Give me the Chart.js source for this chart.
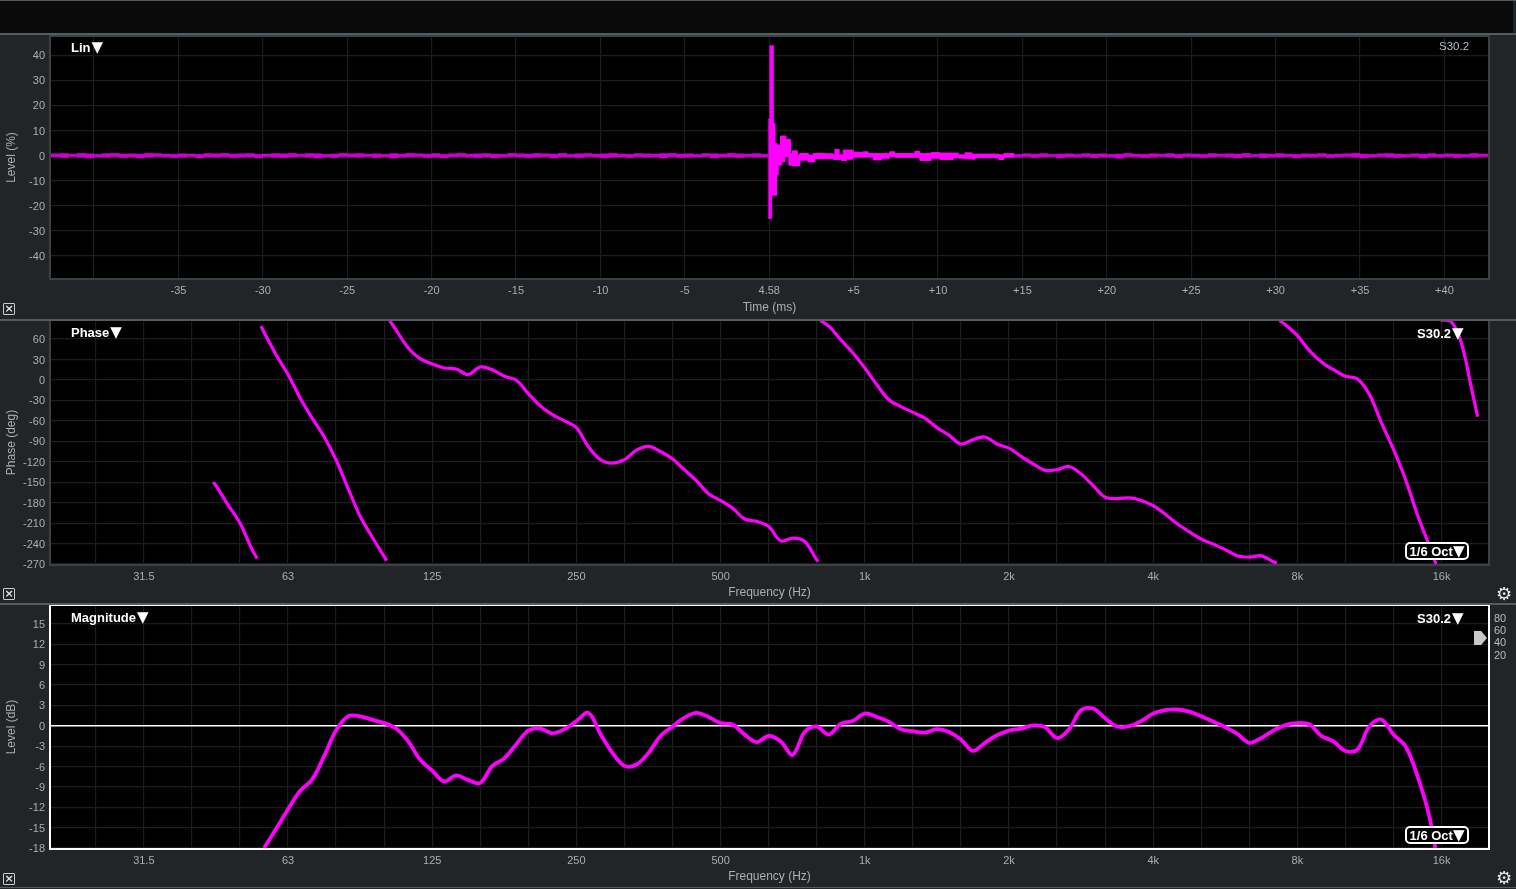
<!DOCTYPE html>
<html><head><meta charset="utf-8">
<script src="https://cdn.jsdelivr.net/npm/chart.js@4"></script>
<style>
html,body{margin:0;padding:0;background:#212527;width:1516px;height:889px;overflow:hidden;font-family:"Liberation Sans",Arial,sans-serif}
canvas{position:absolute;left:0}
.bar{position:absolute;left:0;width:1516px;background:#555c61}
.t{position:absolute;color:#fff;font-weight:bold;font-size:13px;line-height:14px;white-space:nowrap}
.t i{font:normal 15px/14px "DejaVu Sans";margin-left:1px}
.s{position:absolute;color:#b9bcbe;font-size:11px;line-height:12px}
.oct{position:absolute;left:1405px;width:60px;height:14px;border:2px solid #fff;border-radius:5px;background:#000;color:#fff;font-weight:bold;font-size:13px;line-height:14px;text-align:center;white-space:nowrap}
.oct i{font:normal 15px/14px "DejaVu Sans"}
.x{position:absolute;left:3px;width:10px;height:10px;border:1.5px solid #c9cbcc;border-radius:1px;color:#e4e4e4;font:bold 11px/10px "DejaVu Sans";text-align:center}
.g{position:absolute;left:1495px;color:#e4e4e4;font:18px/18px "DejaVu Sans";width:18px;text-align:center}
.h{position:absolute;left:1474px;top:631px;width:13px;height:14px;background:#c8c8c8;clip-path:polygon(0 0,55% 0,100% 50%,55% 100%,0 100%)}
</style></head><body>
<div style="position:absolute;left:0;top:0;width:1513px;height:34px;background:#0a0a0a"></div>
<canvas id="c1" width="1516" height="284" style="top:35px"></canvas>
<canvas id="c2" width="1516" height="284" style="top:319px"></canvas>
<canvas id="c3" width="1516" height="284" style="top:603px"></canvas>
<div class="bar" style="top:0;height:1px"></div>
<div class="bar" style="top:33px;height:2px"></div>
<div class="bar" style="top:319px;height:2px"></div>
<div class="bar" style="top:603px;height:2px"></div>
<div class="bar" style="top:887px;height:1px"></div>
<div class="t" style="left:71px;top:40px">Lin<i>▼</i></div>
<div class="s" style="left:1439px;top:40px;font-size:11.5px">S30.2</div>
<div class="t" style="left:71px;top:325px">Phase<i>▼</i></div>
<div class="t" style="left:1417px;top:326px">S30.2<i>▼</i></div>
<div class="oct" style="top:542px">1/6 Oct<i>▼</i></div>
<div class="t" style="left:71px;top:610px">Magnitude<i>▼</i></div>
<div class="t" style="left:1417px;top:611px">S30.2<i>▼</i></div>
<div class="oct" style="top:826px">1/6 Oct<i>▼</i></div>
<div class="x" style="top:303px">×</div>
<div class="x" style="top:588px">×</div>
<div class="x" style="top:873px">×</div>
<div class="g" style="top:585px">⚙</div>
<div class="g" style="top:869px">⚙</div>
<div class="s" style="left:1494px;top:612px">80</div>
<div class="s" style="left:1494px;top:624px">60</div>
<div class="s" style="left:1494px;top:636px">40</div>
<div class="s" style="left:1494px;top:649px">20</div>
<div class="h"></div>
<script>
// ---------- Impulse response (time relative to the 4.58 ms peak) ----------
const timeTickValues=[-40,-35,-30,-25,-20,-15,-10,-5,0,5,10,15,20,25,30,35,40];
const timeTickLabels=['','-35','-30','-25','-20','-15','-10','-5','4.58','+5','+10','+15','+20','+25','+30','+35','+40'];
const levelTicks=[40,30,20,10,0,-10,-20,-30,-40];
const timeMs=[-42.6,-42,-41.5,-41,-40.5,-40,-39.5,-39,-38.5,-38,-37.5,-37,-36.5,-36,-35.5,-35,-34.5,-34,-33.5,-33,
-32.5,-32,-31.5,-31,-30.5,-30,-29.5,-29,-28.5,-28,-27.5,-27,-26.5,-26,-25.5,-25,-24.5,-24,-23.5,-23,
-22.5,-22,-21.5,-21,-20.5,-20,-19.5,-19,-18.5,-18,-17.5,-17,-16.5,-16,-15.5,-15,-14.5,-14,-13.5,-13,
-12.5,-12,-11.5,-11,-10.5,-10,-9.5,-9,-8.5,-8,-7.5,-7,-6.5,-6,-5.5,-5,-4.5,-4,-3.5,-3,
-2.5,-2,-1.5,-1,-0.5,
-0.06,0.04,0.14,0.24,0.34,0.43,0.47,0.53,0.67,0.73,0.93,0.99,1.16,1.26,1.38,1.66,1.81,2.31,2.6,2.7,
3.29,3.79,3.89,4.14,4.28,4.38,4.58,4.97,5.56,5.86,6.15,6.65,7.14,7.44,8.62,8.92,9.6,10.1,10.9,11.2,
11.6,12,12.2,13.6,13.9,
14.5,15,15.5,16,16.5,17,17.5,18,18.5,19,19.5,20,20.5,21,21.5,22,22.5,23,23.5,24,
24.5,25,25.5,26,26.5,27,27.5,28,28.5,29,29.5,30,30.5,31,31.5,32,32.5,33,33.5,34,
34.5,35,35.5,36,36.5,37,37.5,38,38.5,39,39.5,40,40.5,41,41.5,42,42.6];
const timeHigh=[.7,.8,.6,.9,.7,.5,.8,.9,.6,.7,.6,.9,.8,.6,.5,.7,.6,.5,.8,.7,
.9,.6,.7,.8,.5,.6,.8,.7,.9,.6,.8,.7,.5,.6,.9,.7,.8,.6,.7,.5,
.8,.6,.9,.7,.6,.8,.5,.7,.9,.6,.7,.8,.6,.5,.9,.7,.6,.8,.7,.6,
.9,.5,.7,.8,.6,.7,.9,.6,.5,.8,.7,.6,.8,.9,.6,.7,.5,.8,.7,.6,
.9,.7,.6,.8,.5,
14.5,43.8,43.8,12.9,4.9,4.9,4.2,4.2,7.8,7.8,7.8,6.5,6.5,.9,1.9,.2,.9,.2,.9,.9,
.7,.3,2.5,.3,.3,2.2,2.2,1.3,1.5,.8,.8,.8,1.5,.8,1.7,.8,1.2,1,1,.3,
1.1,.6,.6,.3,.8,
.5,.7,.6,.8,.5,.6,.7,.5,.8,.6,.7,.5,.6,.9,.6,.5,.7,.6,.8,.5,
.7,.6,.5,.8,.6,.7,.6,.9,.5,.7,.6,.8,.6,.5,.7,.6,.8,.5,.6,.7,
.9,.6,.5,.7,.8,.6,.5,.7,.6,.8,.5,.7,.6,.5,.8,.6,.7];
const timeLow=[-.6,-.8,-.5,-.7,-.9,-.6,-.7,-.5,-.8,-.6,-.9,-.7,-.5,-.6,-.8,-.7,-.5,-.9,-.6,-.7,
-.5,-.8,-.7,-.6,-.9,-.5,-.7,-.8,-.6,-.5,-.7,-.9,-.6,-.8,-.5,-.6,-.7,-.5,-.8,-.6,
-.9,-.7,-.6,-.5,-.8,-.7,-.9,-.6,-.5,-.7,-.8,-.6,-.9,-.7,-.5,-.6,-.8,-.7,-.5,-.9,
-.6,-.7,-.8,-.5,-.6,-.9,-.7,-.6,-.8,-.5,-.7,-.6,-.9,-.5,-.8,-.7,-.6,-.5,-.9,-.7,
-.6,-.8,-.5,-.7,-.6,
-25,-25,-15.8,-15.8,-15.8,-7.8,-7.8,-3.8,-3.8,-2.5,-.5,-.5,-3.8,-3.8,-4,-4,-1.8,-2.5,-2.5,-1.1,
-1.1,-1.5,-1.5,-1.5,-2,-2,-1.4,-.6,-.6,-.6,-1.7,-1,-.4,-.7,-.7,-1.9,-1,-1.5,-.8,-1,
-1.1,-1.4,-.8,-1.5,-.6,
-.7,-.5,-.8,-.6,-.5,-.9,-.6,-.7,-.5,-.8,-.6,-.7,-1,-.5,-.6,-.8,-.7,-.5,-.6,-.9,
-.5,-.7,-.8,-.6,-.5,-.7,-.9,-.6,-.5,-.8,-.7,-.6,-.5,-.9,-.6,-.7,-.5,-.8,-.6,-.5,
-.7,-.9,-.6,-.5,-.7,-.8,-.6,-.5,-.9,-.6,-.7,-.5,-.8,-.6,-.7,-.5,-.6];

// ---------- Frequency axes ----------
const freqGridHz=[24.8,31.25,39.4,49.6,62.5,78.7,99.2,125,157.5,198.4,250,315,396.9,500,630,793.7,1000,1260,1587,2000,2520,3175,4000,5040,6350,8000,10079,12699,16000];
const freqLabelHz=[31.25,62.5,125,250,500,1000,2000,4000,8000,16000];
const freqLabelText=['31.5','63','125','250','500','1k','2k','4k','8k','16k'];
const phaseTicks=[60,30,0,-30,-60,-90,-120,-150,-180,-210,-240,-270];
const magTicks=[15,12,9,6,3,0,-3,-6,-9,-12,-15,-18];

// ---------- Phase (wrapped segments) ----------
const phaseHzA=[43.6,44.2,46.8,49.6,52.6,53.9];
const phaseDegA=[-150,-155,-183,-210,-249,-262];
const phaseHzB=[54.9,55.7,59,62.5,66.2,70.2,74.3,78.7,83.4,88.4,93.6,99.2,100.4];
const phaseDegB=[79,70,37,8,-26,-56,-83,-117,-159,-200,-230,-259,-265];
const phaseHzC=[101.9,105.1,111.4,118,125,132.4,140.3,148.6,157.5,166.9,176.8,187.3,198.4,210.2,222.7,236,250,264.9,280.6,297.3,315,333.7,353.6,374.6,396.9,420.4,445.4,471.9,500,529.7,561.2,594.6,630,667.4,707.1,749.2,793.7,800];
const phaseDegC=[87,73,47,31,23.5,17.6,16,8,19,15,5.4,-.5,-20,-38,-51,-60,-70,-98,-117,-122,-117,-103,-97.5,-105,-116,-132,-148,-167,-177,-188,-204,-207.5,-215,-236,-232,-237,-264,-266];
const phaseHzD=[807.5,840.9,890.9,943.9,1000,1059.5,1122.5,1189.2,1259.9,1334.8,1414.2,1498.3,1587.4,1681.8,1781.8,1887.7,2000,2119,2245,2378,2520,2670,2828,2997,3175,3364,3564,3775,4000,4238,4490,4757,5040,5339,5657,5993,6350,6727,7127,7246];
const phaseDegD=[87,79,59,40,17.6,-7,-29,-39,-47.5,-56,-70,-81,-94,-87.6,-83.7,-94,-100,-112,-123,-132.6,-131.6,-127,-138,-155,-172,-174,-173,-176.7,-184.5,-197,-211,-222.7,-233.5,-240.8,-249,-258,-260,-258,-266.7,-269];
const phaseHzE=[7345,7551,8000,8476,8980,9514,10079,10679,11314,11986,12699,13454,14254,15102,15575];
const phaseDegE=[87,81,65,43,26.5,15,5.4,1.5,-21.5,-63,-102,-146,-198,-244,-270];
const phaseHzF=[15920,16720,17410,17959,18312,19027];
const phaseDegF=[88,86,64,30,.5,-54];

// ---------- Magnitude ----------
const magHz=[55.7,59,62.5,66.2,70.2,74.3,78.7,83.4,88.4,93.6,99.2,105.1,111.4,118,125,132.4,140.3,148.6,157.5,166.9,176.8,187.3,198.4,210.2,222.7,236,250,264.9,280.6,297.3,315,333.7,353.6,374.6,396.9,420.4,445.4,471.9,500,529.7,561.2,594.6,630,667.4,707.1,749.2,793.7,840.9,890.9,943.9,1000,1059.5,1122.5,1189.2,1259.9,1334.8,1414.2,1498.3,1587.4,1681.8,1781.8,1887.7,2000,2119,2245,2378,2520,2670,2828,2997,3175,3364,3564,3775,4000,4238,4490,4757,5040,5339,5657,5993,6350,6727,7127,7551,8000,8476,8980,9514,10079,10679,11314,11986,12699,13454,14254,15102,16000];
const magDb=[-18,-15.2,-12.3,-9.6,-7.9,-4.5,-.7,1.4,1.4,.9,.4,-.4,-2.3,-5,-6.6,-8.2,-7.3,-8,-8.4,-5.9,-4.8,-2.7,-.7,-.4,-1.1,-.5,.7,1.9,-1.2,-4,-5.9,-5.7,-4,-1.5,-.1,1.2,1.9,1.3,.4,.2,-1.3,-2.4,-1.5,-2.3,-4.3,-.9,-.1,-1.3,.3,.7,1.8,1.3,.6,-.5,-.8,-1,-.5,-.9,-2,-3.7,-2.5,-1.4,-.7,-.4,.05,-.2,-1.8,-.5,2.3,2.55,1.1,-.1,-.05,.7,1.8,2.3,2.4,2.1,1.4,.6,-.2,-1.2,-2.5,-1.8,-.7,.1,.4,.2,-1.5,-2.3,-3.7,-3.5,-.05,.9,-1.3,-3,-7.4,-13.5,-23.5];

const MAGENTA='#ff00ff', DIM='#cc00cc', GRID='#1c1d1e', TICK='#abaeb0';
const zip=(xs,ys)=>xs.map((x,i)=>({x,y:ys[i]}));
const font={family:'"Liberation Sans",Arial,sans-serif',size:11};
const titleFont={family:'"Liberation Sans",Arial,sans-serif',size:12};

const framePlugin=color=>({id:'frame',
  beforeDraw(c){const a=c.chartArea,g=c.ctx;g.save();g.fillStyle='#000';g.fillRect(a.left,a.top,a.width,a.height);g.restore();},
  afterDraw(c){const a=c.chartArea,g=c.ctx;g.save();g.strokeStyle=color;g.lineWidth=2;
    g.strokeRect(a.left-1,a.top-1,a.width+2,a.height+2);g.restore();}
});
const noPad=s=>{s.paddingTop=s.paddingBottom=s.paddingLeft=s.paddingRight=0;};
function yAxis(title,min,max,ticks,zeroLine){return {type:'linear',min,max,bounds:'data',
  afterBuildTicks:s=>{s.ticks=ticks.map(v=>({value:v}));},
  afterFit:s=>{s.width=51;noPad(s);},
  border:{display:false},
  grid:{drawTicks:false,color:c=>(zeroLine&&c.tick&&c.tick.value===0)?'#ffffff':GRID,lineWidth:c=>(zeroLine&&c.tick&&c.tick.value===0)?1.4:1.2},
  ticks:{autoSkip:false,padding:6,labelOffset:1,color:TICK,font,callback:v=>String(v)},
  title:{display:true,text:title,color:TICK,font:titleFont,padding:{top:4,bottom:0}}};}
function xAxis(cfg,title,h,pb){return Object.assign({bounds:'data',
  afterFit:s=>{s.height=h;noPad(s);},
  border:{display:false},
  grid:{drawTicks:false,color:GRID,lineWidth:1.2},
  title:{display:true,text:title,color:TICK,font:titleFont,padding:{top:0,bottom:pb}}},cfg);}
function options(x,y,pad){return {responsive:false,animation:false,devicePixelRatio:1,
  layout:{padding:{left:0,right:28,top:pad,bottom:0}},
  plugins:{legend:{display:false},tooltip:{enabled:false},title:{display:false}},
  elements:{point:{radius:0}},scales:{x,y}};}
const freqX=h=>xAxis({type:'logarithmic',min:20,max:20000,
  afterBuildTicks:s=>{s.ticks=freqGridHz.map(v=>({value:v}));},
  ticks:{autoSkip:false,maxRotation:0,padding:6,color:TICK,font,
    callback:v=>{const i=freqLabelHz.indexOf(v);return i<0?'':freqLabelText[i];}}},'Frequency (Hz)',h,3);

// band between the high and low envelopes, index range [a,b)
const band=(a,b,color,w)=>[
  {data:zip(timeMs,timeHigh).slice(a,b),borderColor:color,backgroundColor:color,borderWidth:w,stepped:true,fill:'+1'},
  {data:zip(timeMs,timeLow).slice(a,b),borderColor:color,borderWidth:w,stepped:true,fill:false}];
new Chart(document.getElementById('c1'),{type:'line',plugins:[framePlugin('#3b4043')],
 data:{datasets:[...band(0,86,DIM,.6),...band(130,202,DIM,.6),...band(85,131,MAGENTA,1)]},
 options:options(xAxis({type:'linear',min:-42.55,max:42.58,
   afterBuildTicks:s=>{s.ticks=timeTickValues.map(v=>({value:v}));},
   ticks:{autoSkip:false,maxRotation:0,padding:6,color:TICK,font,
     callback:v=>timeTickLabels[timeTickValues.indexOf(v)]}},'Time (ms)',41,4),
   yAxis('Level (%)',-48.8,47.3,levelTicks,false),2)});

const line=(xs,ys,w)=>({data:zip(xs,ys),borderColor:MAGENTA,borderWidth:w,tension:.35,fill:false,borderCapStyle:'butt'});
new Chart(document.getElementById('c2'),{type:'line',plugins:[framePlugin('#3b4043')],
 data:{datasets:[line(phaseHzA,phaseDegA,3.2),line(phaseHzB,phaseDegB,3.2),line(phaseHzC,phaseDegC,3.2),
   line(phaseHzD,phaseDegD,3.2),line(phaseHzE,phaseDegE,3.2),line(phaseHzF,phaseDegF,3.2)]},
 options:options(freqX(39),yAxis('Phase (deg)',-270,86.5,phaseTicks,false),2)});

new Chart(document.getElementById('c3'),{type:'line',plugins:[framePlugin('#ffffff')],
 data:{datasets:[line(magHz,magDb,3.8)]},
 options:options(freqX(39),yAxis('Level (dB)',-18,17.65,magTicks,true),3)});
</script>
</body></html>
